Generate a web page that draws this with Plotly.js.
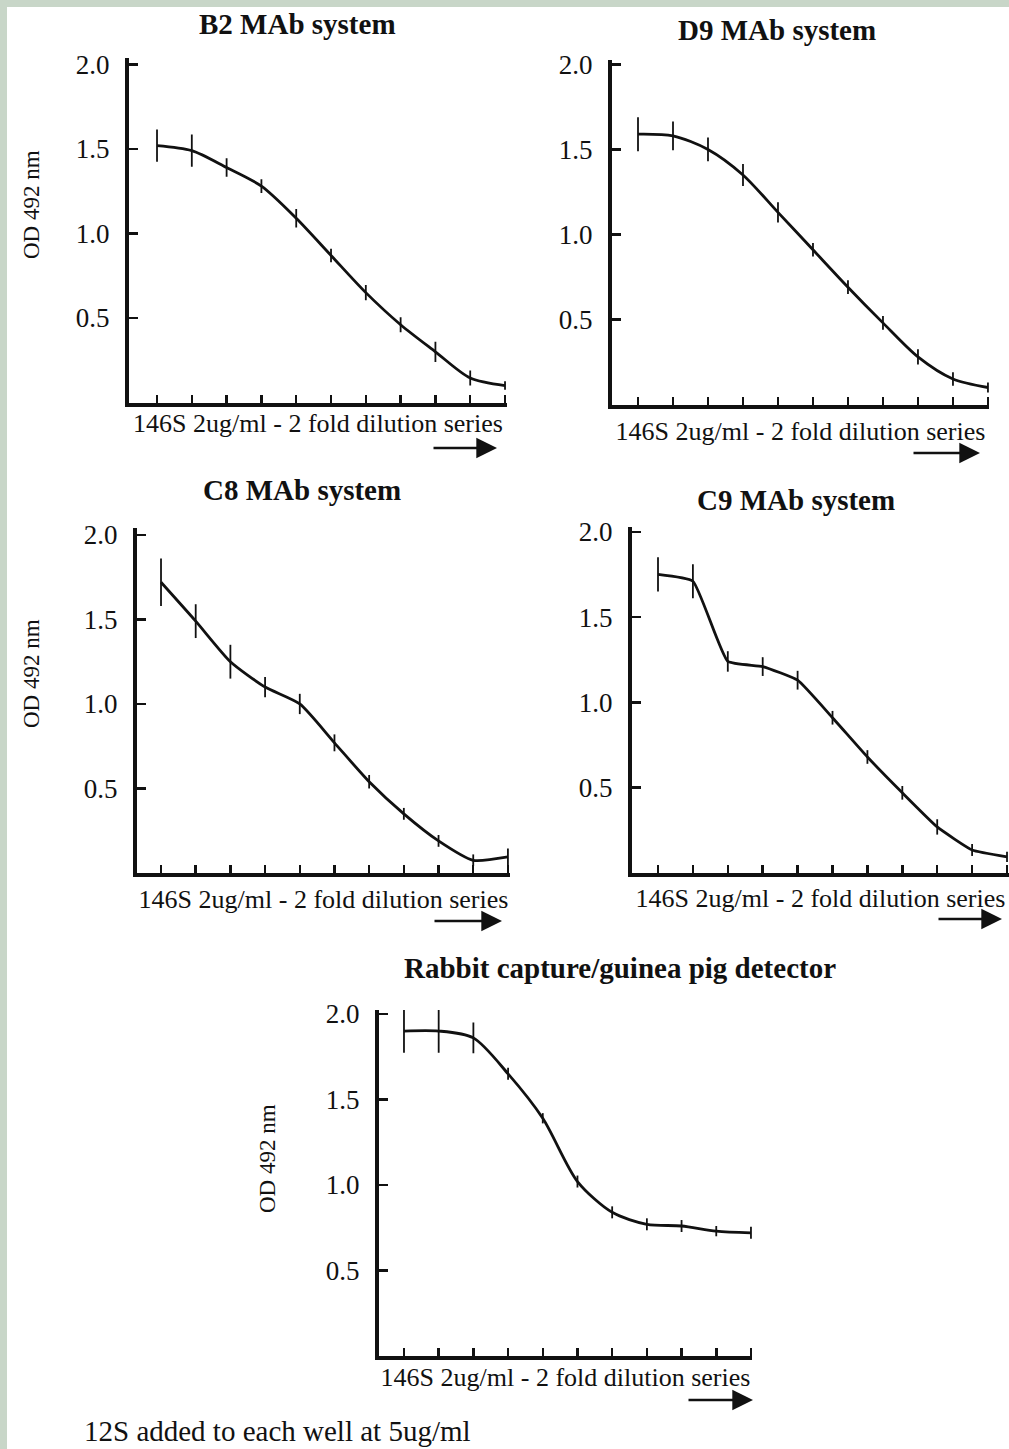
<!DOCTYPE html>
<html>
<head>
<meta charset="utf-8">
<script src="https://cdn.plot.ly/plotly-3.0.1.min.js"></script>
<style>
  html, body { margin: 0; padding: 0; background: #ffffff; }
  #chart { width: 1009px; height: 1449px; }
</style>
</head>
<body>
<div id="chart"></div>
<script>
// ---------------- data ----------------
const dilutionStep = [0, 1, 2, 3, 4, 5, 6, 7, 8, 9, 10];

const panelTitles = ["B2 MAb system", "D9 MAb system", "C8 MAb system", "C9 MAb system",
                     "Rabbit capture/guinea pig detector"];
const xAxisLabel = "146S 2ug/ml - 2 fold dilution series";
const yAxisLabel = "OD 492 nm";
const footnote = "12S added to each well at 5ug/ml";
const yTickVals = [0.5, 1.0, 1.5, 2.0];
const yTickText = ["0.5", "1.0", "1.5", "2.0"];

const b2OD  = [1.52, 1.49, 1.39, 1.28, 1.09, 0.87, 0.65, 0.46, 0.30, 0.145, 0.10];
const b2Err = [0.095, 0.095, 0.055, 0.04, 0.055, 0.04, 0.045, 0.045, 0.06, 0.045, 0.025];

const d9OD  = [1.59, 1.58, 1.50, 1.35, 1.13, 0.91, 0.69, 0.48, 0.28, 0.15, 0.10];
const d9Err = [0.10, 0.085, 0.07, 0.065, 0.06, 0.04, 0.04, 0.04, 0.045, 0.04, 0.03];

const c8OD  = [1.72, 1.49, 1.25, 1.10, 1.00, 0.77, 0.54, 0.35, 0.19, 0.075, 0.095];
const c8Err = [0.14, 0.10, 0.10, 0.06, 0.06, 0.05, 0.04, 0.035, 0.035, 0.035, 0.05];

const c9OD  = [1.75, 1.71, 1.24, 1.21, 1.13, 0.91, 0.68, 0.47, 0.27, 0.135, 0.095];
const c9Err = [0.10, 0.10, 0.06, 0.055, 0.055, 0.04, 0.04, 0.04, 0.045, 0.035, 0.03];

const rabbitOD  = [1.90, 1.90, 1.86, 1.65, 1.39, 1.02, 0.84, 0.77, 0.76, 0.73, 0.72];
const rabbitErr = [0.127, 0.127, 0.09, 0.035, 0.03, 0.035, 0.035, 0.035, 0.035, 0.03, 0.035];

// ---------------- layout helpers ----------------
const W = 1009, H = 1449;
const px = v => v / W;
const py = v => 1 - v / H;
const SERIF = '"Liberation Serif", "Times New Roman", Times, serif';
const INK = '#111111';

// plot-area boxes in pixels and axis ranges
const panels = [
  {L:129, R:507,  T:57.5, B:402.5, xr:[-0.805, 10.057], yr:[0, 2.041], smooth:0.8, xs:9,
   title:{x:297, y:24},  arrow:{x0:432, x1:497, y:448}, ytitle:{x:31, y:205}},
  {L:612, R:989,  T:59.5, B:404.5, xr:[-0.743, 10.03],  yr:[0, 2.029], smooth:0.8, xs:15,
   title:{x:777, y:30},  arrow:{x0:912, x1:980, y:453}, ytitle:null},
  {L:137, R:510,  T:528,  B:873,   xr:[-0.692, 10.06],  yr:[0, 2.041], smooth:0.6, xs:15,
   title:{x:302, y:490}, arrow:{x0:433, x1:502, y:921}, ytitle:{x:32, y:674}},
  {L:632, R:1009, T:527,  B:873,   xr:[-0.745, 10.057], yr:[0, 2.028], smooth:0.4, xs:14,
   title:{x:796, y:500}, arrow:{x0:937, x1:1002, y:919}, ytitle:null},
  {L:379, R:752,  T:1010, B:1356,  xr:[-0.72, 10.03],   yr:[0, 2.023], smooth:0.8, xs:10,
   title:{x:620, y:968}, arrow:{x0:687, x1:753, y:1400}, ytitle:{x:267, y:1159}}
];
const seriesOD  = [b2OD, d9OD, c8OD, c9OD, rabbitOD];
const seriesErr = [b2Err, d9Err, c8Err, c9Err, rabbitErr];

const data = [];
const layout = {
  width: W, height: H,
  margin: {l:0, r:0, t:0, b:0, pad:0},
  paper_bgcolor: '#ffffff',
  plot_bgcolor: 'rgba(0,0,0,0)',
  showlegend: false,
  font: {family: SERIF, color: INK},
  annotations: [],
  shapes: [
    {type:'rect', xref:'paper', yref:'paper', x0:0, x1:px(7), y0:0, y1:1,
     fillcolor:'#c8d6c8', line:{width:0}, layer:'below'},
    {type:'rect', xref:'paper', yref:'paper', x0:0, x1:1, y0:py(7), y1:1,
     fillcolor:'#c8d6c8', line:{width:0}, layer:'below'}
  ]
};

panels.forEach((p, i) => {
  const n = i === 0 ? '' : String(i + 1);
  data.push({
    type: 'scatter', mode: 'lines',
    x: dilutionStep, y: seriesOD[i],
    xaxis: 'x' + n, yaxis: 'y' + n,
    line: {color: INK, width: 2.8, shape: 'spline', smoothing: p.smooth},
    error_y: {type: 'data', array: seriesErr[i], visible: true, width: 0, thickness: 1.8, color: INK},
    cliponaxis: false,
    hoverinfo: 'skip'
  });
  layout['xaxis' + n] = {
    domain: [px(p.L), px(p.R)], range: p.xr, anchor: 'y' + n,
    showline: true, linewidth: 4, linecolor: INK,
    ticks: 'inside', ticklen: 8, tickwidth: 2.5, tickcolor: INK,
    tickvals: dilutionStep, showticklabels: false,
    showgrid: false, zeroline: false, fixedrange: true, automargin: false,
    title: {text: xAxisLabel, font: {family: SERIF, size: 26, color: INK}, standoff: p.xs}
  };
  layout['yaxis' + n] = {
    domain: [py(p.B), py(p.T)], range: p.yr, anchor: 'x' + n,
    showline: true, linewidth: 4, linecolor: INK,
    ticks: 'inside', ticklen: 9, tickwidth: 2.5, tickcolor: INK,
    tickvals: yTickVals, ticktext: yTickText,
    tickfont: {family: SERIF, size: 27, color: INK}, ticklabelstandoff: 10,
    showgrid: false, zeroline: false, fixedrange: true, automargin: false
  };
  layout.annotations.push({
    xref: 'paper', yref: 'paper', x: px(p.title.x), y: py(p.title.y),
    xanchor: 'center', yanchor: 'middle', showarrow: false,
    text: panelTitles[i],
    font: {family: SERIF, size: 29, color: INK, weight: 'bold'}
  });
  if (p.ytitle) {
    layout.annotations.push({
      xref: 'paper', yref: 'paper', x: px(p.ytitle.x), y: py(p.ytitle.y),
      xanchor: 'center', yanchor: 'middle', showarrow: false, textangle: -90,
      text: yAxisLabel,
      font: {family: SERIF, size: 23, color: INK}
    });
  }
  layout.annotations.push({
    xref: 'paper', yref: 'paper', x: px(p.arrow.x1), y: py(p.arrow.y),
    ax: -(p.arrow.x1 - p.arrow.x0), ay: 0, text: '',
    showarrow: true, arrowhead: 2, arrowsize: 1.8, arrowwidth: 2.3, arrowcolor: INK, standoff: 0
  });
});

layout.annotations.push({
  xref: 'paper', yref: 'paper', x: px(82), y: py(1431),
  xanchor: 'left', yanchor: 'middle', showarrow: false,
  text: footnote, font: {family: SERIF, size: 29, color: INK}
});

Plotly.newPlot('chart', data, layout, {displayModeBar: false, staticPlot: true});
</script>
</body>
</html>
